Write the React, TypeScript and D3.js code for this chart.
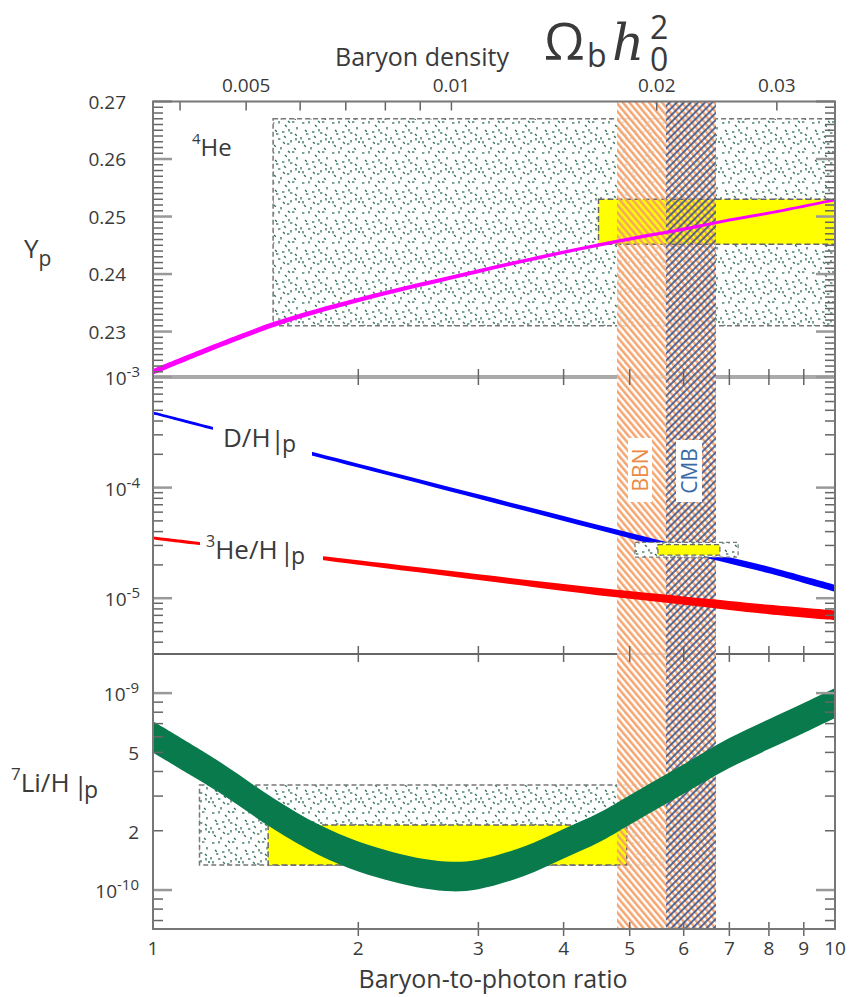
import React from 'react';
import * as d3 from 'd3';

// ---------- data ----------
const ETA = [1, 1.5, 2, 3, 4, 5, 6, 7, 8, 10];
const YP = [0.223, 0.2312, 0.2355, 0.2405, 0.2438, 0.2461, 0.2478, 0.2494, 0.2506, 0.2529];
const YP_ERR = [0.0005, 0.00045, 0.0004, 0.00035, 0.0003, 0.0003, 0.00028, 0.00027, 0.00026, 0.00025];
const DH = [4.74e-4, 2.49e-4, 1.58e-4, 8.3e-5, 5.26e-5, 3.69e-5, 2.77e-5, 2.2e-5, 1.8e-5, 1.23e-5];
const DH_ERR_DEX = [0.013, 0.015, 0.017, 0.02, 0.022, 0.024, 0.026, 0.028, 0.03, 0.032];
const HE3 = [3.5e-5, 2.6e-5, 2.1e-5, 1.55e-5, 1.25e-5, 1.07e-5, 9.5e-6, 8.6e-6, 7.9e-6, 7.0e-6];
const HE3_ERR_DEX = [0.013, 0.016, 0.02, 0.026, 0.031, 0.035, 0.038, 0.041, 0.043, 0.045];
const LI_ETA = [1, 1.25, 1.5, 1.75, 2, 2.25, 2.5, 2.75, 3, 3.5, 4, 4.5, 5, 6, 7, 8, 9, 10];
const LI = [5.98e-10, 3.75e-10, 2.45e-10, 1.8e-10, 1.48e-10, 1.31e-10, 1.21e-10, 1.17e-10, 1.2e-10, 1.4e-10, 1.72e-10, 2.07e-10, 2.55e-10, 3.66e-10, 4.96e-10, 6.19e-10, 7.47e-10, 8.9e-10];
const LI_ERR_DEX = [0.08, 0.079, 0.078, 0.077, 0.076, 0.075, 0.075, 0.075, 0.075, 0.075, 0.075, 0.075, 0.075, 0.075, 0.076, 0.076, 0.076, 0.076];

// observational boxes: [eta0, eta1, v0, v1]
const HE4_OBS = [1.5, 10, 0.231, 0.267];
const HE4_BEST = [4.5, 10, 0.2452, 0.253];
const DH_OBS = [5.09, 7.21, 2.35e-5, 3.2e-5];
const DH_BEST = [5.5, 6.78, 2.45e-5, 3.05e-5];
const LI_OBS = [1.17, 6.6, 1.34e-10, 3.41e-10];
const LI_BEST = [1.475, 4.95, 1.34e-10, 2.14e-10];
const BBN_BAND = [4.79, 6.69];
const CMB_BAND = [5.65, 6.69];

const X_TICKS = [1, 2, 3, 4, 5, 6, 7, 8, 9, 10];
const OMEGA_TICKS = [0.004, 0.005, 0.006, 0.007, 0.008, 0.009, 0.01, 0.02, 0.03];
const OMEGA_LABELS = ['0.005', '0.01', '0.02', '0.03'];
const ETA_PER_OMEGA = 273.9;
const YP_LABELS = [0.23, 0.24, 0.25, 0.26, 0.27];
const MID_LABELS = [-3, -4, -5];
const LI_LABELS: [number, string, string][] = [[1e-9, '10', '-9'], [5e-10, '5', ''], [2e-10, '2', ''], [1e-10, '10', '-10']];

// stipple pattern marks (texture only)
const STIPPLE = [[2, 3, 0], [9, 1, 1], [15, 5, 2], [22, 2, 0], [27, 7, 1], [5, 10, 2], [12, 12, 0], [19, 9, 1], [25, 14, 2], [1, 17, 1], [8, 19, 0], [14, 16, 2], [21, 20, 1], [28, 22, 0], [4, 25, 2], [11, 27, 1], [17, 24, 0], [24, 28, 2], [6, 14, 0], [18, 1, 2], [26, 18, 1], [13, 22, 2], [20, 13, 0], [3, 21, 1]];

const FONT = "'Open Sans', 'Noto Sans', sans-serif";
const TXT = '#3a3a3a';

export default function App() {
  const L = 153, R = 835, T = 101.5, D1 = 377, D2 = 654, B = 929;
  const x = d3.scaleLog().domain([1, 10]).range([L, R]);
  const yHe = d3.scaleLinear().domain([0.2221, 0.27]).range([D1, T]);
  const yMid = d3.scaleLog().domain([3.13e-6, 1e-3]).range([D2, D1]);
  const yLi = d3.scaleLog().domain([6.34e-11, 1.58e-9]).range([B, D2]);

  const cv = d3.curveCatmullRom.alpha(0.5);
  const idx = ETA.map((_, i) => i);
  const heArea = d3.area<number>().x(i => x(ETA[i])).y0(i => yHe(YP[i] - YP_ERR[i])).y1(i => yHe(YP[i] + YP_ERR[i])).curve(cv)(idx) || '';
  const dhArea = d3.area<number>().x(i => x(ETA[i])).y0(i => yMid(DH[i] * Math.pow(10, -DH_ERR_DEX[i]))).y1(i => yMid(DH[i] * Math.pow(10, DH_ERR_DEX[i]))).curve(cv)(idx) || '';
  const he3Area = d3.area<number>().x(i => x(ETA[i])).y0(i => yMid(HE3[i] * Math.pow(10, -HE3_ERR_DEX[i]))).y1(i => yMid(HE3[i] * Math.pow(10, HE3_ERR_DEX[i]))).curve(cv)(idx) || '';
  const liArea = d3.area<number>().x(i => x(LI_ETA[i])).y0(i => yLi(LI[i] * Math.pow(10, -LI_ERR_DEX[i]))).y1(i => yLi(LI[i] * Math.pow(10, LI_ERR_DEX[i]))).curve(cv)(LI_ETA.map((_, i) => i)) || '';

  const box = (b: number[], y: any) => ({ x: x(b[0]), y: y(b[3]), width: x(b[1]) - x(b[0]), height: y(b[2]) - y(b[3]) });
  const he4Obs = box(HE4_OBS, yHe), he4Best = box(HE4_BEST, yHe);
  const dhObs = box(DH_OBS, yMid), dhBest = box(DH_BEST, yMid);
  const liObs = box(LI_OBS, yLi), liBest = box(LI_BEST, yLi);

  const ypTicks = d3.range(223, 271).map(v => v / 1000);
  const logTicks = (dom: number[], lo: number, hi: number) => {
    const out: { v: number; major: boolean }[] = [];
    for (let e = lo; e <= hi; e++) for (let m = 1; m <= 9; m++) {
      const v = m * Math.pow(10, e);
      if (v >= dom[0] * 0.999 && v <= dom[1] * 1.001) out.push({ v, major: m === 1 });
    }
    return out;
  };
  const midTicks = logTicks(yMid.domain(), -6, -3);
  const liTicks = logTicks(yLi.domain(), -11, -9);

  const yTicks: { y: number; major: boolean }[] = [
    ...ypTicks.map(v => ({ y: yHe(v), major: Math.round(v * 1000) % 10 === 0 })),
    ...midTicks.map(t => ({ y: yMid(t.v), major: t.major })),
    ...liTicks.map(t => ({ y: yLi(t.v), major: t.major })),
  ];

  const bbnX0 = x(BBN_BAND[0]), bbnX1 = x(BBN_BAND[1]);
  const cmbX0 = x(CMB_BAND[0]), cmbX1 = x(CMB_BAND[1]);

  return (
    <svg width={850} height={997} style={{ position: 'absolute', left: 0, top: 0, background: '#fff' }} fontFamily={FONT}>
      <defs>
        <pattern id="stip" width={30} height={30} patternUnits="userSpaceOnUse">
          {STIPPLE.map(([px, py, o], i) => (
            <line key={i} x1={px} y1={py} x2={px + (o === 0 ? 2.4 : o === 1 ? 0 : 1.8)} y2={py + (o === 0 ? 0 : o === 1 ? 2.4 : 1.8)} stroke="#2f6f56" strokeWidth={1.3} />
          ))}
        </pattern>
        <pattern id="hatchO" width={5} height={10} patternUnits="userSpaceOnUse" patternTransform="rotate(-40)">
          <line x1={1.3} y1={-1} x2={1.3} y2={11} stroke="#f4a068" strokeWidth={2.4} />
        </pattern>
        <pattern id="hatchB" width={5} height={10} patternUnits="userSpaceOnUse" patternTransform="rotate(45)">
          <line x1={1} y1={-1} x2={1} y2={11} stroke="#2c4f8f" strokeWidth={1.6} />
        </pattern>
        <clipPath id="cTop"><rect x={L} y={T} width={R - L} height={D1 - T} /></clipPath>
        <clipPath id="cMid"><rect x={L} y={D1} width={R - L} height={D2 - D1} /></clipPath>
        <clipPath id="cBot"><rect x={L} y={D2} width={R - L} height={B - D2} /></clipPath>
      </defs>

      {/* observation stipple boxes */}
      <g stroke="#777" strokeWidth={1.5} strokeDasharray="5,3">
        <rect {...he4Obs} fill="url(#stip)" />
        <rect {...liObs} fill="url(#stip)" />
      </g>

      {/* dividers */}
      <line x1={L} x2={R} y1={D1} y2={D1} stroke="#aaa" strokeWidth={4} />
      <line x1={L} x2={R} y1={D2} y2={D2} stroke="#666" strokeWidth={2} />

      {/* band white background */}
      <rect x={bbnX0} y={T} width={bbnX1 - bbnX0} height={B - T} fill="#fff" opacity={0.75} />

      {/* yellow boxes */}
      <g stroke="#666" strokeWidth={1.5} strokeDasharray="6,3" fill="#ffff00">
        <rect {...he4Best} />
        <rect {...liBest} />
      </g>

      {/* hatch bands */}
      <rect x={bbnX0} y={T} width={bbnX1 - bbnX0} height={B - T} fill="url(#hatchO)" />
      <rect x={cmbX0} y={T} width={cmbX1 - cmbX0} height={B - T} fill="url(#hatchB)" />

      {/* theory curves */}
      <path d={heArea} fill="#ff00ff" clipPath="url(#cTop)" />
      <path d={dhArea} fill="#0000ff" clipPath="url(#cMid)" />
      <path d={he3Area} fill="#ff0000" clipPath="url(#cMid)" />
      <path d={liArea} fill="#087a4c" clipPath="url(#cBot)" />

      {/* D/H observation box */}
      <rect {...dhObs} fill="#fff" />
      <rect {...dhObs} fill="url(#stip)" stroke="#777" strokeWidth={1.2} strokeDasharray="4,3" />
      <rect {...dhBest} fill="#ffff00" stroke="#666" strokeWidth={1.2} strokeDasharray="5,3" />

      {/* curve labels */}
      <rect x={213} y={424} width={99} height={34} fill="#fff" />
      <rect x={200} y={534} width={123} height={38} fill="#fff" />
      <g fill={TXT}>
        <text x={223} y={447} fontSize={26}>D/H<tspan dx={0} dy={2}>|</tspan><tspan dx={-3} dy={3} fontSize={23}>p</tspan></text>
        <text x={206} y={559} fontSize={26}><tspan dy={-12} fontSize={16}>3</tspan><tspan dy={12}>He/H</tspan><tspan dx={2} dy={2}>|</tspan><tspan dx={-3} dy={3} fontSize={23}>p</tspan></text>
        <text x={11} y={792} fontSize={26}><tspan dy={-12} fontSize={17}>7</tspan><tspan dy={12}>Li/H</tspan><tspan dx={4} dy={3}>|</tspan><tspan dx={-4} dy={3} fontSize={23}>p</tspan></text>
        <text x={192} y={156} fontSize={24}><tspan dy={-12} fontSize={15}>4</tspan><tspan dy={12}>He</tspan></text>
        <text x={24} y={258} fontSize={26}>Y<tspan dy={8} fontSize={21}>p</tspan></text>
      </g>

      {/* BBN / CMB labels */}
      <rect x={628} y={438} width={24} height={64} fill="#fff" />
      <rect x={676} y={440} width={26} height={62} fill="#fff" />
      <text transform="translate(648,470) rotate(-90)" textAnchor="middle" fontSize={21} fill="#ec8a45">BBN</text>
      <text transform="translate(697,471) rotate(-90)" textAnchor="middle" fontSize={21} fill="#3a6aa8">CMB</text>

      {/* y ticks left & right */}
      <g>
        {yTicks.map((t, i) => (
          <g key={i} stroke={t.major ? '#999' : '#666'} strokeWidth={t.major ? 2.5 : 1.5}>
            <line x1={L} x2={L + (t.major ? 19 : 10)} y1={t.y} y2={t.y} />
            <line x1={R} x2={R - (t.major ? 19 : 10)} y1={t.y} y2={t.y} />
          </g>
        ))}
      </g>

      {/* x ticks on bottom axis and dividers */}
      <g stroke="#666" strokeWidth={1.5}>
        {X_TICKS.slice(1, -1).map(v => (
          <g key={v}>
            <line x1={x(v)} x2={x(v)} y1={B - 7} y2={B + 7} />
            <line x1={x(v)} x2={x(v)} y1={D2 - 8} y2={D2 + 8} />
            <line x1={x(v)} x2={x(v)} y1={D1 - 8} y2={D1 + 8} />
          </g>
        ))}
        {OMEGA_TICKS.map(o => (
          <line key={o} x1={x(o * ETA_PER_OMEGA)} x2={x(o * ETA_PER_OMEGA)} y1={T} y2={T + 9} />
        ))}
      </g>

      {/* frame */}
      <rect x={L} y={T} width={R - L} height={B - T} fill="none" stroke="#777" strokeWidth={2} />

      {/* tick labels */}
      <g fill={TXT} fontSize={19}>
        {YP_LABELS.map(v => (
          <text key={v} x={126} y={yHe(v) + 7} textAnchor="end">{v.toFixed(2)}</text>
        ))}
        {MID_LABELS.map(e => (
          <text key={e} x={140} y={yMid(Math.pow(10, e)) + 8} textAnchor="end">10<tspan dy={-8} fontSize={15}>{'-' + (-e)}</tspan></text>
        ))}
        {LI_LABELS.map(([v, base, ex]) => (
          <text key={v} x={139} y={yLi(v) + 8} textAnchor="end">{base}{ex ? <tspan dy={-8} fontSize={15}>{ex}</tspan> : null}</text>
        ))}
        {X_TICKS.map(v => (
          <text key={v} x={x(v)} y={955} textAnchor="middle">{v}</text>
        ))}
        {OMEGA_LABELS.map(s => (
          <text key={s} x={x(+s * ETA_PER_OMEGA)} y={92} textAnchor="middle">{s}</text>
        ))}
      </g>

      {/* axis titles */}
      <text x={493} y={988} textAnchor="middle" fontSize={25} fill={TXT}>Baryon-to-photon ratio</text>
      <text x={335} y={66} fontSize={25} fill={TXT}>Baryon density</text>
      <g fill={TXT}>
        <text x={544} y={60} fontSize={52}>Ω</text>
        <text x={587} y={67} fontSize={32}>b</text>
        <text x={612} y={60} fontSize={50} fontStyle="italic" fontFamily="'DejaVu Serif', serif">h</text>
        <text x={650} y={39} fontSize={32}>2</text>
        <text x={650} y={71} fontSize={32}>0</text>
      </g>
    </svg>
  );
}
